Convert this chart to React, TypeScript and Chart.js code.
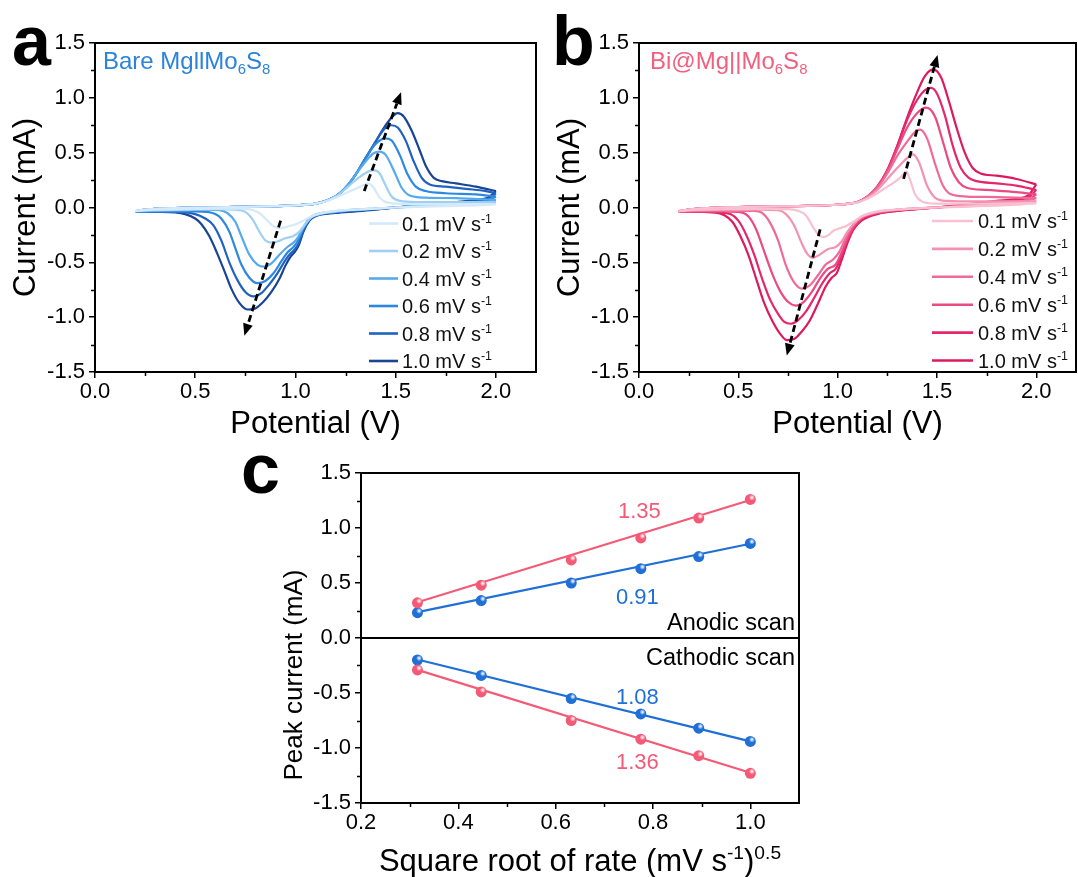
import React, { useEffect, useRef } from "react";
import { Chart, registerables } from "chart.js";

Chart.register(...registerables);

type Pt = [number, number];
const FONT = "'Liberation Sans', Arial, Helvetica, sans-serif";

// ---------- shared ----------
const RATE_LABELS = ["0.1", "0.2", "0.4", "0.6", "0.8", "1.0"];
const BLUE_SHADES = ["#d4e9f9", "#9fd0f4", "#55aaee", "#2e88e0", "#1f62c0", "#1a4496"];
const RED_SHADES = ["#f8c0d1", "#f492b2", "#f06a97", "#eb4a82", "#e5266b", "#dc1a5c"];
const CV_X_TICKS = [0, 0.5, 1.0, 1.5, 2.0];
const CV_X_MINOR = [0.25, 0.75, 1.25, 1.75];
const CUR_TICKS = [-1.5, -1.0, -0.5, 0, 0.5, 1.0, 1.5];
const CUR_MINOR = [-1.25, -0.75, -0.25, 0.25, 0.75, 1.25];

// ---------- panel a : Bare Mg||Mo6S8 ----------
const A_UP_BASE: Pt[] = [[0.2, -0.035], [0.25, -0.02], [0.3, -0.012], [0.4, -0.005], [0.55, 0.0], [0.7, 0.005], [0.85, 0.01], [1.0, 0.02], [1.1, 0.035]];
const A_UP_01: Pt[] = [[1.15, 0.055], [1.2, 0.09], [1.25, 0.13], [1.3, 0.17], [1.34, 0.205], [1.365, 0.22], [1.39, 0.18], [1.42, 0.09], [1.46, 0.045], [1.6, 0.03], [1.8, 0.03], [2.0, 0.03]];
const A_UP_02: Pt[] = [[1.15, 0.06], [1.2, 0.1], [1.25, 0.17], [1.3, 0.25], [1.35, 0.315], [1.39, 0.34], [1.42, 0.31], [1.45, 0.2], [1.48, 0.1], [1.52, 0.06], [1.6, 0.05], [1.8, 0.05], [2.0, 0.05]];
const A_UP_04: Pt[] = [[1.15, 0.06], [1.2, 0.1], [1.25, 0.18], [1.3, 0.3], [1.35, 0.42], [1.39, 0.495], [1.42, 0.51], [1.45, 0.48], [1.49, 0.34], [1.53, 0.18], [1.57, 0.11], [1.65, 0.09], [1.8, 0.085], [2.0, 0.07]];
const A_UP_06: Pt[] = [[1.15, 0.06], [1.2, 0.1], [1.25, 0.18], [1.3, 0.3], [1.35, 0.45], [1.4, 0.58], [1.45, 0.63], [1.48, 0.61], [1.52, 0.48], [1.56, 0.3], [1.6, 0.19], [1.65, 0.15], [1.75, 0.13], [1.9, 0.12], [2.0, 0.1]];
const A_UP_08: Pt[] = [[1.15, 0.06], [1.2, 0.1], [1.25, 0.18], [1.3, 0.3], [1.35, 0.45], [1.4, 0.6], [1.44, 0.71], [1.48, 0.75], [1.51, 0.73], [1.55, 0.61], [1.59, 0.42], [1.63, 0.27], [1.67, 0.21], [1.75, 0.19], [1.85, 0.17], [1.95, 0.15], [2.0, 0.13]];
const A_UP_10: Pt[] = [[1.15, 0.06], [1.2, 0.1], [1.25, 0.18], [1.3, 0.3], [1.35, 0.45], [1.4, 0.6], [1.45, 0.75], [1.49, 0.84], [1.51, 0.86], [1.54, 0.83], [1.58, 0.7], [1.62, 0.52], [1.65, 0.38], [1.69, 0.27], [1.73, 0.24], [1.8, 0.22], [1.9, 0.19], [2.0, 0.15]];

const A_LOW_01: Pt[] = [[0.2, -0.03], [0.3, -0.02], [0.45, -0.015], [0.6, -0.01], [0.72, -0.01], [0.78, -0.02], [0.82, -0.05], [0.86, -0.12], [0.89, -0.17], [0.92, -0.19], [0.95, -0.18], [0.99, -0.16], [1.03, -0.13], [1.07, -0.09], [1.12, -0.055], [1.2, -0.03], [1.3, -0.02], [1.4, -0.01], [1.5, 0.0], [1.6, 0.005], [1.7, 0.01], [1.8, 0.015], [1.9, 0.02], [2.0, 0.03]];
const A_LOW_02: Pt[] = [[0.2, -0.03], [0.3, -0.025], [0.45, -0.02], [0.6, -0.015], [0.7, -0.02], [0.75, -0.04], [0.79, -0.12], [0.82, -0.22], [0.85, -0.3], [0.88, -0.32], [0.91, -0.31], [0.95, -0.28], [0.99, -0.26], [1.02, -0.22], [1.05, -0.15], [1.08, -0.09], [1.12, -0.06], [1.2, -0.035], [1.3, -0.02], [1.4, -0.01], [1.5, 0.0], [1.6, 0.01], [1.7, 0.015], [1.8, 0.02], [1.9, 0.03], [2.0, 0.05]];
const A_LOW_04: Pt[] = [[0.2, -0.035], [0.3, -0.03], [0.45, -0.025], [0.55, -0.02], [0.62, -0.025], [0.66, -0.05], [0.7, -0.13], [0.73, -0.26], [0.77, -0.43], [0.81, -0.52], [0.845, -0.54], [0.88, -0.51], [0.92, -0.43], [0.96, -0.36], [0.99, -0.32], [1.01, -0.28], [1.04, -0.18], [1.07, -0.1], [1.1, -0.065], [1.2, -0.04], [1.3, -0.02], [1.4, -0.01], [1.5, 0.0], [1.6, 0.01], [1.7, 0.02], [1.8, 0.03], [1.9, 0.04], [1.96, 0.05], [2.0, 0.07]];
const A_LOW_06: Pt[] = [[0.2, -0.035], [0.3, -0.035], [0.4, -0.035], [0.5, -0.035], [0.56, -0.04], [0.6, -0.06], [0.63, -0.1], [0.67, -0.22], [0.7, -0.37], [0.73, -0.52], [0.77, -0.64], [0.81, -0.69], [0.85, -0.67], [0.89, -0.6], [0.93, -0.49], [0.96, -0.41], [0.99, -0.36], [1.01, -0.31], [1.04, -0.19], [1.07, -0.1], [1.1, -0.07], [1.2, -0.04], [1.3, -0.025], [1.4, -0.012], [1.5, 0.0], [1.6, 0.012], [1.7, 0.025], [1.8, 0.035], [1.9, 0.05], [1.96, 0.065], [2.0, 0.1]];
const A_LOW_08: Pt[] = [[0.2, -0.035], [0.3, -0.04], [0.4, -0.04], [0.5, -0.06], [0.55, -0.1], [0.59, -0.16], [0.63, -0.3], [0.67, -0.5], [0.71, -0.66], [0.75, -0.77], [0.79, -0.81], [0.83, -0.78], [0.87, -0.7], [0.91, -0.6], [0.95, -0.48], [0.975, -0.42], [0.995, -0.385], [1.015, -0.33], [1.04, -0.21], [1.07, -0.11], [1.1, -0.075], [1.2, -0.045], [1.3, -0.03], [1.4, -0.015], [1.5, 0.0], [1.6, 0.015], [1.7, 0.03], [1.8, 0.045], [1.9, 0.06], [1.96, 0.08], [2.0, 0.13]];
const A_LOW_10: Pt[] = [[0.2, -0.035], [0.3, -0.04], [0.4, -0.045], [0.45, -0.06], [0.5, -0.1], [0.53, -0.15], [0.57, -0.26], [0.61, -0.42], [0.65, -0.6], [0.68, -0.74], [0.72, -0.87], [0.76, -0.93], [0.8, -0.92], [0.84, -0.86], [0.88, -0.77], [0.92, -0.65], [0.95, -0.53], [0.975, -0.45], [0.995, -0.41], [1.015, -0.35], [1.04, -0.22], [1.07, -0.12], [1.1, -0.08], [1.2, -0.05], [1.3, -0.035], [1.4, -0.02], [1.5, 0.0], [1.6, 0.02], [1.7, 0.035], [1.8, 0.05], [1.9, 0.07], [1.96, 0.09], [2.0, 0.15]];

const A_ARROWS = [[1.343, 0.15, 1.527, 1.05], [0.926, -0.12, 0.745, -1.17]];

// ---------- panel b : Bi@Mg||Mo6S8 ----------
const B_UP_BASE: Pt[] = [[0.2, -0.035], [0.25, -0.02], [0.3, -0.01], [0.4, 0.0], [0.55, 0.005], [0.7, 0.01], [0.85, 0.015], [1.0, 0.025], [1.06, 0.035]];
const B_UP_01: Pt[] = [[1.1, 0.045], [1.15, 0.08], [1.2, 0.13], [1.25, 0.19], [1.3, 0.25], [1.33, 0.3], [1.345, 0.33], [1.365, 0.25], [1.39, 0.12], [1.43, 0.05], [1.5, 0.035], [1.7, 0.035], [2.0, 0.04]];
const B_UP_02: Pt[] = [[1.1, 0.05], [1.15, 0.09], [1.2, 0.16], [1.25, 0.26], [1.3, 0.36], [1.35, 0.45], [1.38, 0.485], [1.41, 0.41], [1.45, 0.2], [1.49, 0.09], [1.55, 0.06], [1.7, 0.055], [1.85, 0.055], [2.0, 0.055]];
const B_UP_04: Pt[] = [[1.1, 0.05], [1.15, 0.1], [1.2, 0.18], [1.25, 0.31], [1.3, 0.47], [1.35, 0.6], [1.39, 0.69], [1.415, 0.71], [1.45, 0.63], [1.49, 0.4], [1.53, 0.2], [1.57, 0.12], [1.65, 0.1], [1.8, 0.095], [2.0, 0.085]];
const B_UP_06: Pt[] = [[1.1, 0.05], [1.15, 0.1], [1.2, 0.19], [1.25, 0.33], [1.3, 0.53], [1.35, 0.73], [1.4, 0.86], [1.445, 0.91], [1.49, 0.83], [1.53, 0.6], [1.57, 0.36], [1.61, 0.23], [1.65, 0.18], [1.75, 0.16], [1.9, 0.14], [2.0, 0.12]];
const B_UP_08: Pt[] = [[1.1, 0.05], [1.15, 0.1], [1.2, 0.19], [1.25, 0.34], [1.3, 0.56], [1.35, 0.8], [1.4, 0.98], [1.44, 1.07], [1.47, 1.09], [1.5, 1.04], [1.54, 0.84], [1.58, 0.56], [1.62, 0.36], [1.66, 0.27], [1.7, 0.24], [1.8, 0.22], [1.9, 0.2], [2.0, 0.16]];
const B_UP_10: Pt[] = [[1.1, 0.05], [1.15, 0.1], [1.2, 0.19], [1.25, 0.34], [1.3, 0.56], [1.35, 0.82], [1.4, 1.05], [1.44, 1.2], [1.48, 1.26], [1.52, 1.19], [1.56, 0.97], [1.6, 0.72], [1.64, 0.5], [1.68, 0.36], [1.72, 0.31], [1.8, 0.29], [1.9, 0.26], [2.0, 0.21]];

const B_LOW_01: Pt[] = [[0.2, -0.03], [0.3, -0.02], [0.45, -0.015], [0.6, -0.012], [0.75, -0.015], [0.8, -0.03], [0.84, -0.07], [0.88, -0.19], [0.905, -0.25], [0.93, -0.27], [0.955, -0.25], [0.98, -0.21], [1.01, -0.19], [1.04, -0.17], [1.08, -0.13], [1.12, -0.08], [1.2, -0.035], [1.3, -0.018], [1.4, -0.008], [1.5, 0.0], [1.6, 0.006], [1.7, 0.012], [1.8, 0.018], [1.9, 0.025], [2.0, 0.04]];
const B_LOW_02: Pt[] = [[0.2, -0.03], [0.3, -0.025], [0.45, -0.02], [0.6, -0.02], [0.7, -0.025], [0.74, -0.06], [0.78, -0.16], [0.82, -0.33], [0.85, -0.43], [0.875, -0.46], [0.91, -0.43], [0.95, -0.38], [0.99, -0.36], [1.02, -0.31], [1.05, -0.22], [1.08, -0.15], [1.12, -0.09], [1.2, -0.04], [1.3, -0.02], [1.4, -0.008], [1.5, 0.0], [1.6, 0.008], [1.7, 0.015], [1.8, 0.025], [1.9, 0.035], [2.0, 0.055]];
const B_LOW_04: Pt[] = [[0.2, -0.035], [0.3, -0.03], [0.4, -0.03], [0.5, -0.03], [0.58, -0.03], [0.62, -0.05], [0.66, -0.14], [0.7, -0.3], [0.74, -0.53], [0.78, -0.68], [0.82, -0.74], [0.86, -0.71], [0.9, -0.62], [0.94, -0.52], [0.98, -0.47], [1.01, -0.4], [1.04, -0.28], [1.07, -0.18], [1.11, -0.1], [1.2, -0.045], [1.3, -0.02], [1.4, -0.008], [1.5, 0.0], [1.6, 0.01], [1.7, 0.02], [1.8, 0.03], [1.9, 0.045], [2.0, 0.085]];
const B_LOW_06: Pt[] = [[0.2, -0.035], [0.3, -0.035], [0.4, -0.035], [0.5, -0.04], [0.55, -0.08], [0.59, -0.2], [0.63, -0.4], [0.67, -0.6], [0.71, -0.76], [0.75, -0.86], [0.79, -0.895], [0.83, -0.86], [0.87, -0.77], [0.91, -0.65], [0.95, -0.56], [0.99, -0.52], [1.02, -0.41], [1.05, -0.28], [1.08, -0.18], [1.12, -0.1], [1.2, -0.05], [1.3, -0.025], [1.4, -0.01], [1.5, 0.0], [1.6, 0.012], [1.7, 0.025], [1.8, 0.04], [1.9, 0.055], [1.96, 0.07], [2.0, 0.12]];
const B_LOW_08: Pt[] = [[0.2, -0.035], [0.3, -0.04], [0.4, -0.045], [0.46, -0.06], [0.5, -0.12], [0.54, -0.25], [0.58, -0.43], [0.62, -0.65], [0.66, -0.84], [0.7, -0.97], [0.73, -1.04], [0.765, -1.06], [0.8, -1.03], [0.84, -0.95], [0.88, -0.83], [0.92, -0.7], [0.96, -0.6], [0.99, -0.56], [1.02, -0.44], [1.05, -0.3], [1.08, -0.19], [1.12, -0.11], [1.2, -0.055], [1.3, -0.03], [1.4, -0.012], [1.5, 0.0], [1.6, 0.015], [1.7, 0.03], [1.8, 0.05], [1.9, 0.07], [1.96, 0.09], [2.0, 0.16]];
const B_LOW_10: Pt[] = [[0.2, -0.035], [0.3, -0.04], [0.38, -0.045], [0.43, -0.07], [0.47, -0.13], [0.51, -0.26], [0.55, -0.43], [0.59, -0.65], [0.63, -0.87], [0.67, -1.03], [0.71, -1.15], [0.745, -1.21], [0.78, -1.2], [0.82, -1.13], [0.86, -1.03], [0.9, -0.88], [0.94, -0.72], [0.97, -0.64], [0.995, -0.6], [1.02, -0.48], [1.05, -0.32], [1.08, -0.2], [1.12, -0.12], [1.2, -0.06], [1.3, -0.03], [1.4, -0.015], [1.5, 0.0], [1.6, 0.02], [1.7, 0.04], [1.8, 0.06], [1.9, 0.08], [1.96, 0.11], [2.0, 0.21]];

const B_ARROWS = [[1.332, 0.26, 1.503, 1.39], [0.912, -0.2, 0.744, -1.35]];

// ---------- panel c : peak current vs sqrt(rate) ----------
const SQRT_RATE = [0.316, 0.447, 0.632, 0.775, 0.894, 1.0];
const BLUE_ANODIC = [0.23, 0.34, 0.5, 0.63, 0.74, 0.86];
const RED_ANODIC = [0.32, 0.48, 0.71, 0.91, 1.09, 1.26];
const BLUE_CATHODIC = [-0.2, -0.34, -0.55, -0.69, -0.82, -0.94];
const RED_CATHODIC = [-0.29, -0.49, -0.75, -0.92, -1.07, -1.23];
const FIT_X = [0.316, 1.0];
const BLUE_ANODIC_FIT = [0.235, 0.857];
const RED_ANODIC_FIT = [0.325, 1.255];
const BLUE_CATHODIC_FIT = [-0.195, -0.94];
const RED_CATHODIC_FIT = [-0.29, -1.225];
const SLOPE_LABELS = ["1.35", "0.91", "1.08", "1.36"];
const C_X_TICKS = [0.2, 0.4, 0.6, 0.8, 1.0];
const C_X_MINOR = [0.3, 0.5, 0.7, 0.9];

const C_BLUE = "#1f6fd6";
const C_RED = "#f45a76";

// ---------- drawing helpers ----------
type Seg = [string, string];

function drawRich(ctx: CanvasRenderingContext2D, segs: Seg[], x: number, y: number, size: number, color: string, align: string, bold = false, rotate = false) {
  ctx.save();
  ctx.translate(x, y);
  if (rotate) ctx.rotate(-Math.PI / 2);
  ctx.fillStyle = color;
  ctx.textBaseline = "alphabetic";
  ctx.textAlign = "left";
  const fnt = (s: number) => `${bold ? "bold " : ""}${s}px ${FONT}`;
  let total = 0;
  const ws = segs.map(([t, m]) => {
    ctx.font = fnt(m ? size * 0.62 : size);
    const w = ctx.measureText(t).width;
    total += w;
    return w;
  });
  let cx = align === "center" ? -total / 2 : align === "right" ? -total : 0;
  segs.forEach(([t, m], i) => {
    ctx.font = fnt(m ? size * 0.62 : size);
    const dy = m === "sup" ? -size * 0.4 : m === "sub" ? size * 0.2 : 0;
    ctx.fillText(t, cx, dy);
    cx += ws[i];
  });
  ctx.restore();
}

function drawArrow(ctx: CanvasRenderingContext2D, x1: number, y1: number, x2: number, y2: number) {
  const ang = Math.atan2(y2 - y1, x2 - x1);
  const head = 12, hw = 5;
  const bx = x2 - head * Math.cos(ang), by = y2 - head * Math.sin(ang);
  ctx.save();
  ctx.strokeStyle = "#000";
  ctx.fillStyle = "#000";
  ctx.lineWidth = 2.8;
  ctx.setLineDash([7, 4]);
  ctx.beginPath();
  ctx.moveTo(x1, y1);
  ctx.lineTo(bx, by);
  ctx.stroke();
  ctx.setLineDash([]);
  ctx.beginPath();
  ctx.moveTo(x2, y2);
  ctx.lineTo(bx + hw * Math.sin(ang), by - hw * Math.cos(ang));
  ctx.lineTo(bx - hw * Math.sin(ang), by + hw * Math.cos(ang));
  ctx.closePath();
  ctx.fill();
  ctx.restore();
}

type TextItem = { segs: Seg[]; x: number; y: number; data?: boolean; dy?: number; align: string; color: string; size: number; bold?: boolean; rotate?: boolean };
type Decor = {
  minorX: number[];
  minorY: number[];
  zero?: boolean;
  arrows?: number[][];
  legend?: { colors: string[]; x1: number; x2: number; tx: number; y0: number; dy: number; size: number };
  texts: TextItem[];
  balls?: number[];
};

function makeDecor(d: Decor) {
  return {
    id: "decor",
    afterDatasetsDraw(chart: any) {
      if (!d.balls) return;
      const ctx = chart.ctx;
      ctx.save();
      d.balls.forEach((di) => {
        chart.getDatasetMeta(di).data.forEach((el: any) => {
          const g = ctx.createRadialGradient(el.x + 1.6, el.y - 1.8, 0.3, el.x + 1.6, el.y - 1.8, 3);
          g.addColorStop(0, "rgba(255,255,255,0.95)");
          g.addColorStop(1, "rgba(255,255,255,0)");
          ctx.fillStyle = g;
          ctx.beginPath();
          ctx.arc(el.x + 1.6, el.y - 1.8, 3, 0, Math.PI * 2);
          ctx.fill();
        });
      });
      ctx.restore();
    },
    afterDraw(chart: any) {
      const { ctx, chartArea: ca, scales } = chart;
      const xs = scales.x, ys = scales.y;
      ctx.save();
      ctx.strokeStyle = "#000";
      if (d.zero) {
        const y0 = ys.getPixelForValue(0);
        ctx.lineWidth = 2;
        ctx.beginPath();
        ctx.moveTo(ca.left, y0);
        ctx.lineTo(ca.right, y0);
        ctx.stroke();
      }
      ctx.lineWidth = 2;
      ctx.strokeRect(ca.left, ca.top, ca.right - ca.left, ca.bottom - ca.top);
      ctx.lineWidth = 1.5;
      d.minorX.forEach((v) => {
        const px = Math.round(xs.getPixelForValue(v)) + 0.5;
        ctx.beginPath();
        ctx.moveTo(px, ca.bottom);
        ctx.lineTo(px, ca.bottom + 4);
        ctx.stroke();
      });
      d.minorY.forEach((v) => {
        const py = Math.round(ys.getPixelForValue(v)) + 0.5;
        ctx.beginPath();
        ctx.moveTo(ca.left, py);
        ctx.lineTo(ca.left - 4, py);
        ctx.stroke();
      });
      (d.arrows || []).forEach(([a, b, c, e]) => {
        drawArrow(ctx, xs.getPixelForValue(a), ys.getPixelForValue(b), xs.getPixelForValue(c), ys.getPixelForValue(e));
      });
      if (d.legend) {
        const L = d.legend;
        RATE_LABELS.forEach((r, i) => {
          const y = L.y0 + i * L.dy;
          ctx.strokeStyle = L.colors[i];
          ctx.lineWidth = 2.6;
          ctx.beginPath();
          ctx.moveTo(L.x1, y);
          ctx.lineTo(L.x2, y);
          ctx.stroke();
          drawRich(ctx, [[`${r} mV s`, ""], ["-1", "sup"]], L.tx, y + L.size * 0.36, L.size, "#111", "left");
        });
      }
      d.texts.forEach((t) => {
        const x = t.data ? xs.getPixelForValue(t.x) : t.x;
        const y = (t.data ? ys.getPixelForValue(t.y) : t.y) + (t.dy || 0);
        drawRich(ctx, t.segs, x, y, t.size, t.color, t.align, !!t.bold, !!t.rotate);
      });
      ctx.restore();
    },
  };
}

function axis(min: number, max: number, ticks: number[], isX: boolean, size: number, title: string | null, titlePad: any, tickPad: number) {
  return {
    type: "linear",
    min,
    max,
    afterBuildTicks: (s: any) => {
      s.ticks = ticks.map((v) => ({ value: v }));
    },
    afterFit: (s: any) => {
      if (isX) s.height = size;
      else s.width = size;
    },
    grid: { display: true, drawOnChartArea: false, drawTicks: true, tickLength: 6, color: "#000", lineWidth: 1.5 },
    border: { display: false },
    ticks: {
      color: "#000",
      font: { family: FONT, size: 22 },
      padding: tickPad,
      autoSkip: false,
      maxRotation: 0,
      minRotation: 0,
      callback: (v: any) => Number(v).toFixed(1),
    },
    title: title
      ? { display: true, text: title, color: "#000", font: { family: FONT, size: 31 }, padding: titlePad }
      : { display: false },
  };
}

function toXY(pts: Pt[]) {
  return pts.map(([x, y]) => ({ x, y }));
}

function cvConfig(base: Pt[], ups: Pt[][], lows: Pt[][], shades: string[], yWidth: number, padRight: number, yTitlePad: number, decor: Decor) {
  const datasets: any[] = [];
  for (let i = 0; i < ups.length; i++) {
    datasets.push({ data: toXY(base.concat(ups[i])), borderColor: shades[i] });
    datasets.push({ data: toXY(lows[i]), borderColor: shades[i] });
  }
  return {
    type: "line",
    data: { datasets },
    options: {
      animation: false,
      responsive: false,
      maintainAspectRatio: false,
      events: [],
      layout: { padding: { top: 43, right: padRight, left: 0, bottom: 0 } },
      plugins: { legend: { display: false }, tooltip: { enabled: false } },
      elements: {
        point: { radius: 0 },
        line: { borderWidth: 2.2, cubicInterpolationMode: "monotone", fill: false },
      },
      scales: {
        x: axis(0, 2.2, CV_X_TICKS, true, 73, "Potential (V)", { top: 0, bottom: 2 }, 1),
        y: axis(-1.5, 1.5, CUR_TICKS, false, yWidth, "Current (mA)", { top: yTitlePad, bottom: 0 }, 4),
      },
    },
    plugins: [makeDecor(decor)],
  };
}

function configA() {
  return cvConfig(
    A_UP_BASE,
    [A_UP_01, A_UP_02, A_UP_04, A_UP_06, A_UP_08, A_UP_10],
    [A_LOW_01, A_LOW_02, A_LOW_04, A_LOW_06, A_LOW_08, A_LOW_10],
    BLUE_SHADES,
    95,
    4,
    8,
    {
      minorX: CV_X_MINOR,
      minorY: CUR_MINOR,
      arrows: A_ARROWS,
      legend: { colors: BLUE_SHADES, x1: 369, x2: 398, tx: 402, y0: 223.5, dy: 27.5, size: 20 },
      texts: [
        { segs: [["a", ""]], x: 12, y: 65, align: "left", color: "#000", size: 70, bold: true },
        { segs: [["Bare MgllMo", ""], ["6", "sub"], ["S", ""], ["8", "sub"]], x: 103, y: 69, align: "left", color: "#2b83da", size: 24 },
      ],
    }
  );
}

function configB() {
  return cvConfig(
    B_UP_BASE,
    [B_UP_01, B_UP_02, B_UP_04, B_UP_06, B_UP_08, B_UP_10],
    [B_LOW_01, B_LOW_02, B_LOW_04, B_LOW_06, B_LOW_08, B_LOW_10],
    RED_SHADES,
    99,
    2,
    12,
    {
      minorX: CV_X_MINOR,
      minorY: CUR_MINOR,
      arrows: B_ARROWS,
      legend: { colors: RED_SHADES, x1: 392, x2: 433, tx: 438, y0: 221, dy: 27.9, size: 20 },
      texts: [
        { segs: [["b", ""]], x: 12, y: 65, align: "left", color: "#000", size: 70, bold: true },
        { segs: [["Bi@Mg||Mo", ""], ["6", "sub"], ["S", ""], ["8", "sub"]], x: 110, y: 69, align: "left", color: "#f2607f", size: 24 },
      ],
    }
  );
}

function configC() {
  const pts = (ys: number[]) => SQRT_RATE.map((x, i) => ({ x, y: ys[i] }));
  const fit = (ys: number[]) => FIT_X.map((x, i) => ({ x, y: ys[i] }));
  const line = (ys: number[], c: string) => ({ data: fit(ys), borderColor: c, borderWidth: 2.2, pointRadius: 0 });
  const dots = (ys: number[], c: string) => ({ data: pts(ys), showLine: false, pointRadius: 5.5, pointBackgroundColor: c, pointBorderColor: c, pointBorderWidth: 0 });
  const datasets = [
    line(RED_ANODIC_FIT, C_RED),
    line(BLUE_ANODIC_FIT, C_BLUE),
    line(RED_CATHODIC_FIT, C_RED),
    line(BLUE_CATHODIC_FIT, C_BLUE),
    dots(RED_ANODIC, C_RED),
    dots(BLUE_ANODIC, C_BLUE),
    dots(RED_CATHODIC, C_RED),
    dots(BLUE_CATHODIC, C_BLUE),
  ];
  const decor: Decor = {
    minorX: C_X_MINOR,
    minorY: CUR_MINOR,
    zero: true,
    balls: [4, 5, 6, 7],
    texts: [
      { segs: [["c", ""]], x: 1, y: 53, align: "left", color: "#000", size: 70, bold: true },
      { segs: [[SLOPE_LABELS[0], ""]], x: 0.772, y: 1.165, data: true, dy: 8, align: "center", color: C_RED, size: 22 },
      { segs: [[SLOPE_LABELS[1], ""]], x: 0.768, y: 0.386, data: true, dy: 8, align: "center", color: C_BLUE, size: 22 },
      { segs: [[SLOPE_LABELS[2], ""]], x: 0.768, y: -0.53, data: true, dy: 8, align: "center", color: C_BLUE, size: 22 },
      { segs: [[SLOPE_LABELS[3], ""]], x: 0.768, y: -1.12, data: true, dy: 8, align: "center", color: C_RED, size: 22 },
      { segs: [["Anodic scan", ""]], x: 555, y: 190, align: "right", color: "#000", size: 23.5 },
      { segs: [["Cathodic scan", ""]], x: 555, y: 224.5, align: "right", color: "#000", size: 23.5 },
      { segs: [["Square root of rate (mV s", ""], ["-1", "sup"], [")", ""], ["0.5", "sup"]], x: 340, y: 431, align: "center", color: "#000", size: 31 },
      { segs: [["Peak current (mA)", ""]], x: 62, y: 235, align: "center", color: "#000", size: 26, rotate: true },
    ],
  };
  return {
    type: "line",
    data: { datasets },
    options: {
      animation: false,
      responsive: false,
      maintainAspectRatio: false,
      events: [],
      layout: { padding: { top: 33, right: 21, left: 0, bottom: 0 } },
      plugins: { legend: { display: false }, tooltip: { enabled: false } },
      elements: { line: { tension: 0, fill: false } },
      scales: {
        x: axis(0.2, 1.1, C_X_TICKS, true, 74, null, null, 1),
        y: axis(-1.5, 1.5, CUR_TICKS, false, 121, null, null, 4),
      },
    },
    plugins: [makeDecor(decor)],
  };
}

function ChartCanvas({ make, left, top, width, height }: { make: () => any; left: number; top: number; width: number; height: number }) {
  const ref = useRef<HTMLCanvasElement>(null);
  useEffect(() => {
    const chart = new Chart(ref.current as HTMLCanvasElement, make());
    return () => chart.destroy();
  }, []);
  return <canvas ref={ref} width={width} height={height} style={{ position: "absolute", left, top, width, height }} />;
}

export default function App() {
  return (
    <div style={{ position: "absolute", left: 0, top: 0, width: 1078, height: 877, background: "#fff", overflow: "hidden" }}>
      <ChartCanvas make={configA} left={0} top={0} width={540} height={445} />
      <ChartCanvas make={configB} left={540} top={0} width={538} height={445} />
      <ChartCanvas make={configC} left={240} top={440} width={580} height={437} />
    </div>
  );
}
